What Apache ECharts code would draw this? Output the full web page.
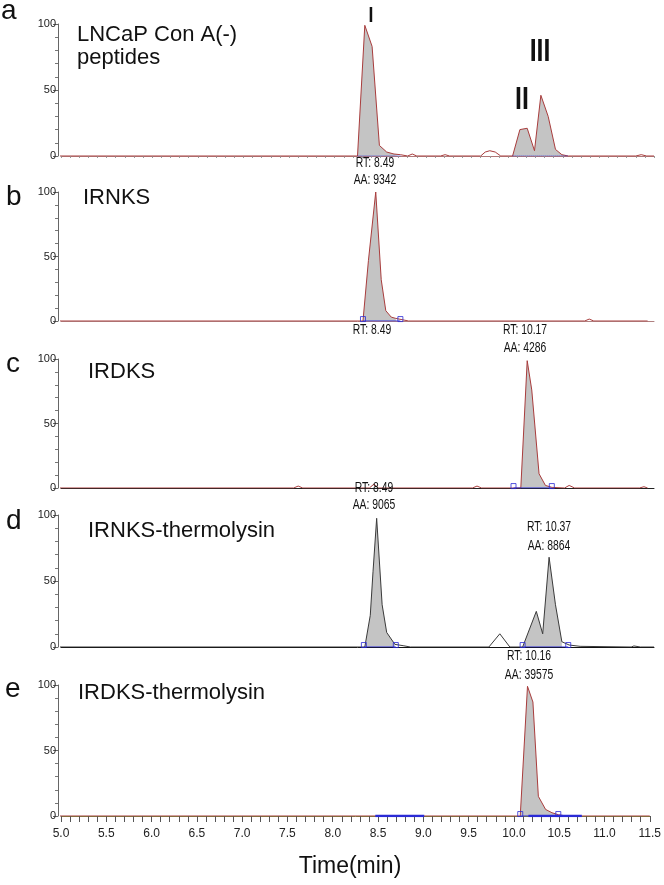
<!DOCTYPE html>
<html>
<head>
<meta charset="utf-8">
<script src="https://cdn.jsdelivr.net/npm/echarts@6/dist/echarts.min.js"></script>
<style>
  html, body { margin: 0; padding: 0; background: #fff; }
  #chart { width: 664px; height: 885px; }
</style>
</head>
<body>
<div id="chart"></div>
<script>
// 每个面板的色谱数据：时间(min) 与 相对强度(%)
var tA = [4.98, 8.25, 8.33, 8.41, 8.49, 8.57, 8.65, 8.72, 8.80, 8.85, 8.90, 9.16, 9.21, 9.26, 9.60, 9.65, 9.70, 9.76, 9.82, 9.95, 10.03, 10.11, 10.19, 10.26, 10.34, 10.42, 10.49, 10.56, 11.30, 11.36, 11.42, 11.50];
var iA = [0, 0, 99, 83, 8, 3, 1.5, 1, 0, 1.5, 0, 0, 1, 0, 0, 3, 4, 3, 0, 0, 20, 21, 4, 46, 30, 5, 1, 0, 0, 1, 0, 0];

var tB = [4.98, 8.31, 8.37, 8.45, 8.51, 8.56, 8.62, 8.67, 8.81, 10.74, 10.79, 10.84, 11.43];
var iB = [0, 0, 47, 100, 32, 8, 3, 2, 0, 0, 1.5, 0, 0];

var tC = [4.98, 7.55, 7.60, 7.65, 8.38, 8.43, 8.48, 9.51, 9.56, 9.61, 10.04, 10.11, 10.16, 10.24, 10.31, 10.38, 10.52, 10.57, 10.63, 11.34, 11.39, 11.43];
var iC = [0, 0, 1.5, 0, 0, 3, 0, 0, 1.5, 0, 0, 98.7, 76, 11, 2, 0.5, 0, 2, 0, 0, 1, 0];

var tD = [4.98, 8.33, 8.39, 8.42, 8.46, 8.52, 8.57, 8.66, 8.75, 8.83, 9.69, 9.81, 9.92, 10.06, 10.21, 10.28, 10.35, 10.42, 10.49, 10.57, 10.69, 11.25, 11.28, 11.35, 11.50];
var iD = [0, 0, 24, 57, 97.5, 32, 11, 2, 1, 0, 0, 10, 0, 0, 27, 10, 68, 32, 4, 1.5, 0.5, 0, 0.8, 0, 0];

var tE = [4.98, 10.07, 10.15, 10.21, 10.27, 10.35, 10.42, 10.49, 10.58, 11.50];
var iE = [0, 0, 99, 87, 15, 5, 2.5, 1, 0, 0];

// 积分窗口（峰起止时间）
var winA = [[8.25, 8.72], [9.95, 10.56]];
var winB = [[8.31, 8.72]];
var winC = [[9.96, 10.38]];
var winD = [[8.32, 8.67], [10.06, 10.56]];
var winE = [[10.07, 10.49]];
var extraE = [[8.47, 9.01], [10.16, 10.75]];

var xTicks = ["5.0", "5.5", "6.0", "6.5", "7.0", "7.5", "8.0", "8.5", "9.0", "9.5", "10.0", "10.5", "11.0", "11.5"];
var yTicks = [0, 50, 100];

var sans = "'Liberation Sans', Arial, sans-serif";
var blue = "#2b2bd6";

var panels = [
  { t: tA, v: iA, win: winA, top: 24, h: 132, line: "#a83c3c", axis: "#b07878", squares: false, ticks: true },
  { t: tB, v: iB, win: winB, top: 192, h: 129, line: "#a83c3c", axis: "#b08080", squares: true },
  { t: tC, v: iC, win: winC, top: 359, h: 129, line: "#a83c3c", axis: "#222", squares: true },
  { t: tD, v: iD, win: winD, top: 515, h: 132, line: "#3a3a3a", axis: "#111", squares: true },
  { t: tE, v: iE, win: winE, top: 685, h: 131, line: "#a83c3c", axis: "#7a7a3c", squares: true, last: true }
];

var grids = [], xAxes = [], yAxes = [], series = [];

panels.forEach(function (p, k) {
  grids.push({ left: 61, width: 593, top: p.top, height: p.h });
  xAxes.push({
    type: "value", gridIndex: k, min: 5, max: 11.5, interval: 0.5,
    axisLine: { show: true, onZero: false, lineStyle: { color: p.axis, width: 1 } },
    axisTick: { show: !!(p.last || p.ticks), length: p.last ? 6 : 2, lineStyle: { color: p.last ? "#555" : "#999" } },
    minorTick: { show: !!(p.last || p.ticks), splitNumber: 5, length: p.last ? 6 : 2, lineStyle: { color: p.last ? "#555" : "#999" } },
    axisLabel: {
      show: !!p.last, margin: 12, fontFamily: sans, fontSize: 12, color: "#222",
      formatter: function (val) { return xTicks[Math.round((val - 5) / 0.5)]; }
    },
    splitLine: { show: false }
  });
  yAxes.push({
    type: "value", gridIndex: k, min: 0, max: 100, interval: 50, offset: 3,
    axisLine: { show: true, onZero: false, lineStyle: { color: "#666" } },
    axisTick: { show: true, length: 5, lineStyle: { color: "#666" } },
    minorTick: { show: true, splitNumber: 5, length: 3, lineStyle: { color: "#777" } },
    axisLabel: {
      margin: 2, fontFamily: sans, fontSize: 11, color: "#222",
      formatter: function (val) { return yTicks.indexOf(val) >= 0 ? String(val) : ""; }
    },
    splitLine: { show: false }
  });

  var pts = p.t.map(function (x, j) { return [x, p.v[j]]; });

  // 积分峰的灰色填充
  p.win.forEach(function (w) {
    series.push({
      type: "line", xAxisIndex: k, yAxisIndex: k, z: 2,
      data: pts.filter(function (d) { return d[0] >= w[0] && d[0] <= w[1]; }),
      showSymbol: false, lineStyle: { width: 0 },
      areaStyle: { color: "#c4c4c4", opacity: 1 }
    });
    // 蓝色基线与端点方块
    series.push({
      type: "line", xAxisIndex: k, yAxisIndex: k, z: 4,
      data: [[w[0], 0], [w[1], 0]], showSymbol: false,
      lineStyle: { color: blue, width: 1, type: p.squares ? "solid" : "dotted" }
    });
    if (p.squares) {
      series.push({
        type: "scatter", xAxisIndex: k, yAxisIndex: k, z: 5,
        data: [[w[0], 1.5], [w[1], 1.5]], symbol: "rect", symbolSize: 5,
        itemStyle: { color: "rgba(255,255,255,0)", borderColor: blue, borderWidth: 1 }
      });
    }
  });

  // 完整色谱轮廓线
  series.push({
    type: "line", xAxisIndex: k, yAxisIndex: k, z: 3,
    data: pts, showSymbol: false,
    lineStyle: { color: p.line, width: 1 }
  });
});

extraE.forEach(function (w) {
  series.push({
    type: "line", xAxisIndex: 4, yAxisIndex: 4, z: 3,
    data: [[w[0], 0], [w[1], 0]], showSymbol: false,
    lineStyle: { color: blue, width: 2.5 }
  });
});

// 文字：sx 为横向压缩比例（模拟窄体字）
function txt(s, x, y, font, align, sx) {
  return {
    type: "text", z: 100, x: x, y: y, scaleX: sx || 1,
    style: { text: s, x: 0, y: 0, font: font, textAlign: align || "left", textVerticalAlign: "middle", fill: "#111" }
  };
}

var letterFont = "28px " + sans;
var titleFont = "22px " + sans;
var annFont = "14px " + sans;
var annSx = 0.74;
var romanFont = "bold 31px " + sans;

var graphics = [
  txt("a", 1, 11, letterFont), txt("b", 6, 197, letterFont), txt("c", 6, 364, letterFont),
  txt("d", 6, 521, letterFont), txt("e", 5, 689, letterFont),
  txt("LNCaP Con A(-)", 77, 35, titleFont), txt("peptides", 77, 58, titleFont),
  txt("IRNKS", 83, 198, titleFont), txt("IRDKS", 88, 372, titleFont),
  txt("IRNKS-thermolysin", 88, 531, titleFont), txt("IRDKS-thermolysin", 78, 693, titleFont),
  txt("I", 371, 16, "bold 22px " + sans, "center", 0.8),
  txt("II", 522, 100, romanFont, "center", 0.8),
  txt("III", 540, 52, romanFont, "center", 0.8),
  txt("RT: 8.49", 375, 163, annFont, "center", annSx), txt("AA: 9342", 375, 180, annFont, "center", annSx),
  txt("RT: 8.49", 372, 330, annFont, "center", annSx),
  txt("RT: 10.17", 525, 330, annFont, "center", annSx), txt("AA: 4286", 525, 348, annFont, "center", annSx),
  txt("RT: 8.49", 374, 488, annFont, "center", annSx), txt("AA: 9065", 374, 505, annFont, "center", annSx),
  txt("RT: 10.37", 549, 527, annFont, "center", annSx), txt("AA: 8864", 549, 546, annFont, "center", annSx),
  txt("RT: 10.16", 529, 656, annFont, "center", annSx), txt("AA: 39575", 529, 675, annFont, "center", annSx),
  txt("Time(min)", 350, 867, "23px " + sans, "center")
];

var myChart = echarts.init(document.getElementById("chart"));
myChart.setOption({
  animation: false,
  backgroundColor: "#fff",
  grid: grids,
  xAxis: xAxes,
  yAxis: yAxes,
  series: series,
  graphic: { elements: graphics }
});
window.addEventListener("resize", function () {
  myChart.resize();
});
</script>
</body>
</html>
